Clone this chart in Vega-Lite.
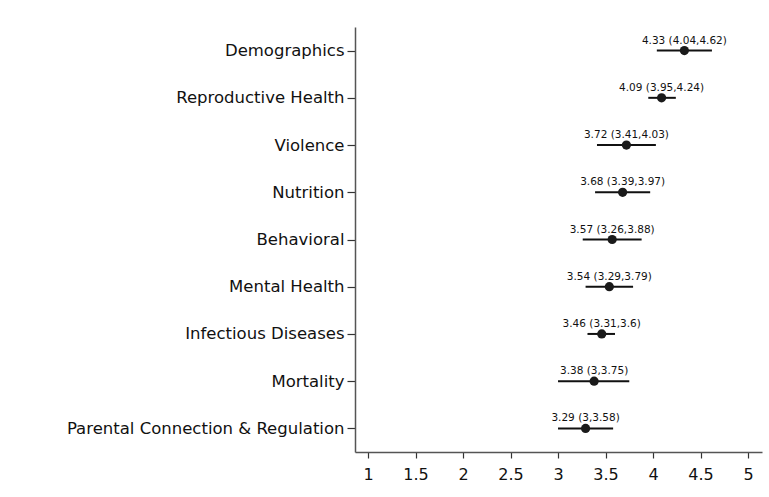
{
  "$schema": "https://vega.github.io/schema/vega-lite/v6.json",
  "autosize": {"type": "none"},
  "width": 407,
  "height": 425,
  "padding": {"left": 355, "top": 27, "right": 7, "bottom": 45},
  "background": "white",
  "config": {
    "view": {"stroke": null},
    "font": "DejaVu Sans",
    "axis": {
      "grid": false,
      "domainColor": "#555555",
      "domainWidth": 1.5,
      "tickColor": "#333333",
      "tickWidth": 1.2,
      "labelColor": "#111111",
      "labelFont": "DejaVu Sans",
      "title": null
    }
  },
  "data": {
    "values": [
      {"cat": "Demographics", "est": 4.33, "lo": 4.04, "hi": 4.62, "label": "4.33 (4.04,4.62)"},
      {"cat": "Reproductive Health", "est": 4.09, "lo": 3.95, "hi": 4.24, "label": "4.09 (3.95,4.24)"},
      {"cat": "Violence", "est": 3.72, "lo": 3.41, "hi": 4.03, "label": "3.72 (3.41,4.03)"},
      {"cat": "Nutrition", "est": 3.68, "lo": 3.39, "hi": 3.97, "label": "3.68 (3.39,3.97)"},
      {"cat": "Behavioral", "est": 3.57, "lo": 3.26, "hi": 3.88, "label": "3.57 (3.26,3.88)"},
      {"cat": "Mental Health", "est": 3.54, "lo": 3.29, "hi": 3.79, "label": "3.54 (3.29,3.79)"},
      {"cat": "Infectious Diseases", "est": 3.46, "lo": 3.31, "hi": 3.6, "label": "3.46 (3.31,3.6)"},
      {"cat": "Mortality", "est": 3.38, "lo": 3.0, "hi": 3.75, "label": "3.38 (3,3.75)"},
      {"cat": "Parental Connection & Regulation", "est": 3.29, "lo": 3.0, "hi": 3.58, "label": "3.29 (3,3.58)"}
    ]
  },
  "encoding": {
    "y": {
      "field": "cat",
      "type": "nominal",
      "sort": null,
      "scale": {"type": "point", "padding": 0.5},
      "axis": {"labelFontSize": 16.5, "tickSize": 8, "labelPadding": 3, "labelLimit": 400, "title": null}
    }
  },
  "layer": [
    {
      "mark": {"type": "rule", "color": "#111111", "strokeWidth": 2},
      "encoding": {
        "x": {
          "field": "lo",
          "type": "quantitative",
          "scale": {"domain": [0.863, 5.147], "nice": false, "zero": false},
          "axis": {
            "values": [1, 1.5, 2, 2.5, 3, 3.5, 4, 4.5, 5],
            "labelExpr": "datum.value",
            "labelFontSize": 16,
            "tickSize": 6,
            "labelPadding": 8,
            "title": null
          }
        },
        "x2": {"field": "hi"}
      }
    },
    {
      "mark": {"type": "point", "filled": true, "color": "#1a1a1a", "size": 85, "opacity": 1},
      "encoding": {"x": {"field": "est", "type": "quantitative"}}
    },
    {
      "mark": {"type": "text", "fontSize": 10.5, "color": "#111111", "baseline": "alphabetic", "dy": -7, "font": "DejaVu Sans"},
      "encoding": {
        "x": {"field": "est", "type": "quantitative"},
        "text": {"field": "label"}
      }
    }
  ]
}
